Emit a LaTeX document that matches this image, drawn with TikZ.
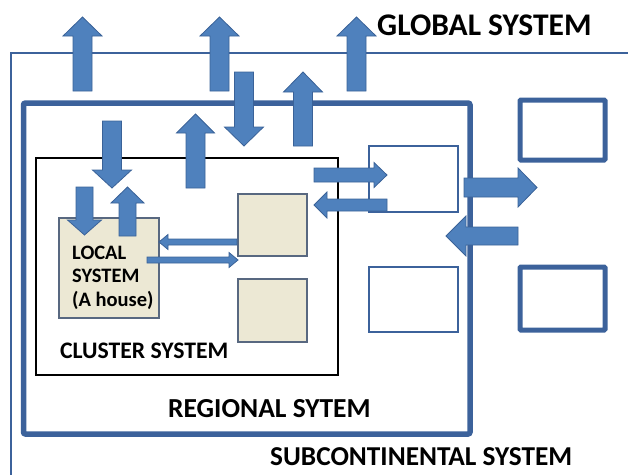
\documentclass[tikz,border=0pt]{standalone}
\usepackage{fontspec}
\setmainfont{Carlito}
\usepackage{tikz}
\definecolor{arrowblue}{RGB}{79,129,189}
\definecolor{edgeblue}{RGB}{58,98,152}
\definecolor{boxblue}{RGB}{60,98,155}
\definecolor{beige}{RGB}{236,232,212}
\definecolor{beigeedge}{RGB}{88,104,128}
\def\blockarrow[#1](#2)(#3:#4:#5:#6:#7){\draw[#1,shift={(#2)},rotate=#3] (0,-#5) -- ({#4-#7},-#5) -- ({#4-#7},-#6) -- (#4,0) -- ({#4-#7},#6) -- ({#4-#7},#5) -- (0,#5) -- cycle;}

\begin{document}
\begin{tikzpicture}[x=1pt,y=1pt,
		arrowfill/.style={fill=arrowblue, draw=edgeblue, line width=0.8pt, line join=miter},
		label/.style={inner sep=0pt, anchor=base west},
		beigebox/.style={fill=beige, draw=beigeedge, line width=2.2pt},
		whitebox/.style={fill=white, draw=boxblue, line width=2pt},
		thickbox/.style={draw=boxblue, line width=5pt, rounded corners=1pt}]
			%%%%% START %%%%%
			
			\useasboundingbox (0,0) rectangle (628,-474);
			
			% subcontinental and regional
			\draw[line width=1.8pt, color=boxblue] (630,-53) -- (11,-53) -- (11,-476);
			\draw[line width=5.5pt, color=boxblue, rounded corners=2pt] (23.5,-103) rectangle (470,-434);
			
			% cluster
			\draw[line width=2.2pt, color=black] (36,-158) rectangle (338,-375);
			
			\draw[beigebox] (59,-218) rectangle (159,-318);
			\draw[beigebox] (238,-194) rectangle (307,-256);
			\draw[beigebox] (238,-279) rectangle (307,-342);
			
			\draw[whitebox] (369,-146) rectangle (458,-212);
			\draw[whitebox] (369,-267) rectangle (458,-332);
			
			\draw[thickbox] (520,-100) rectangle (605,-160);
			\draw[thickbox] (520,-267) rectangle (605,-330);
			
			% big vertical arrows
			\blockarrow[arrowfill](82.5,-91)(90:74:9.5:19.5:19);
			\blockarrow[arrowfill](219.5,-91)(90:74:9.5:19.5:19);
			\blockarrow[arrowfill](356.5,-91)(90:74:9.5:19.5:19);
			\blockarrow[arrowfill](303,-146)(90:74:9.5:19.5:20);
			\blockarrow[arrowfill](244,-72)(-90:74:9.5:19.5:19);
			\blockarrow[arrowfill](112,-121)(-90:67:9.5:19.5:18);
			\blockarrow[arrowfill](195.5,-188)(90:74:9.5:19:19);
			
			% into the house
			\blockarrow[arrowfill](84.5,-187)(-90:48:8.5:17:15);
			\blockarrow[arrowfill](127.5,-236)(90:49:8.5:16.5:16);
			
			% house and cluster
			\blockarrow[arrowfill](237,-242)(180:78:3:7.5:9);
			\blockarrow[arrowfill](147,-260)(0:91:3:7.5:9);
			
			% cluster and region
			\blockarrow[arrowfill](314,-175)(0:73:7:12.5:13);
			\blockarrow[arrowfill](387,-205)(180:73:6:13:13);
			
			% region and subcontinent
			\blockarrow[arrowfill](464,-187.5)(0:73:9.5:19.5:19);
			\blockarrow[arrowfill](518,-236)(180:72:9:20:20);
			
			\node[label, font=\fontsize{31.5}{31.5}\selectfont\bfseries] (global) at (377,-35) {GLOBAL SYSTEM};
			\node[label, font=\fontsize{27.3}{27.3}\selectfont\bfseries] (subcont) at (270,-465) {SUBCONTINENTAL SYSTEM};
			\node[label, font=\fontsize{27.5}{27.5}\selectfont\bfseries] (regional) at (168,-417) {REGIONAL SYTEM};
			\node[label, font=\fontsize{23.7}{23.7}\selectfont\bfseries] (cluster) at (60,-358) {CLUSTER SYSTEM};
			\node[label, align=left, font=\fontsize{20.5}{23.5}\selectfont\bfseries] (local) at (72,-306) {LOCAL\\SYSTEM\\(A house)};
			
			%%%%% END %%%%%
		\end{tikzpicture}
\end{document}
